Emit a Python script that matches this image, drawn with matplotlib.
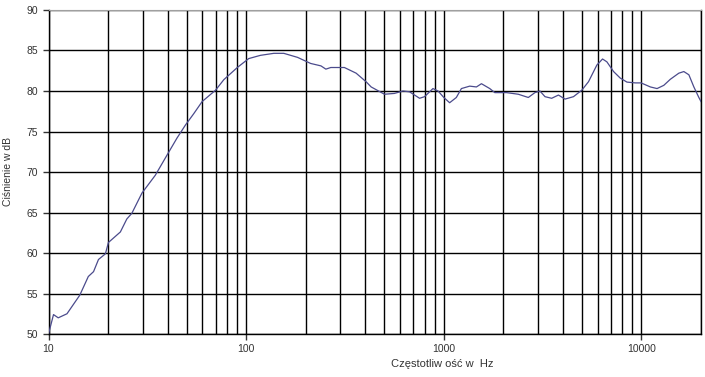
import matplotlib
matplotlib.use("Agg")
import matplotlib.pyplot as plt
from matplotlib.ticker import FixedLocator, LogLocator, NullFormatter

# frequency response ---------------------------------------------------------
freq = [10, 10.6, 11.2, 12.4, 14.4, 15.9, 16.9, 17.9, 19.4, 20.1, 23.1, 24.9,
        26.4, 29.7, 34.7, 39.8, 44.7, 49.3, 54.3, 59.9, 70, 77.1, 90.2, 103,
        118, 138, 155, 182, 212, 239, 253, 268, 314, 360, 404, 429, 501, 562,
        621, 671, 754, 799, 881, 935, 1000, 1070, 1157, 1227, 1352, 1462, 1550,
        1708, 1811, 2076, 2381, 2676, 2890, 3064, 3250, 3513, 3801, 4103, 4529,
        4990, 5396, 5945, 6353, 6683, 7225, 7803, 8440, 9306, 9950, 11090,
        11990, 12970, 14000, 15450, 16380, 17370, 18410, 19510, 20000]
spl = [50.0, 52.4, 52.0, 52.5, 54.8, 57.1, 57.7, 59.2, 59.9, 61.3, 62.6, 64.2,
       64.9, 67.4, 69.6, 72.1, 74.2, 75.8, 77.2, 78.7, 80.1, 81.4, 82.9, 84.0,
       84.4, 84.65, 84.65, 84.15, 83.4, 83.1, 82.7, 82.9, 82.9, 82.2, 81.15,
       80.5, 79.6, 79.7, 80.0, 79.9, 79.1, 79.3, 80.3, 80.0, 79.2, 78.55, 79.2,
       80.3, 80.6, 80.5, 80.9, 80.3, 79.8, 79.8, 79.6, 79.2, 79.8, 80.0, 79.3,
       79.1, 79.5, 79.0, 79.3, 80.1, 81.15, 83.2, 83.95, 83.6, 82.4, 81.6, 81.1,
       81.0, 81.0, 80.5, 80.3, 80.7, 81.45, 82.2, 82.4, 82.0, 80.5, 79.2, 78.7]

y_ticks = [50, 55, 60, 65, 70, 75, 80, 85, 90]
x_ticks = [10, 100, 1000, 10000]

plt.rcParams['font.family'] = ['Liberation Sans', 'DejaVu Sans']

fig = plt.figure(figsize=(7.05, 3.77), dpi=100)
ax = fig.add_axes([0.0688, 0.114, 0.9255, 0.8595])

ax.semilogx(freq, spl, color='#4b4b8c', lw=0.9, zorder=3)

ax.set_xlim(10, 20000)
ax.set_ylim(50, 90)
ax.set_yticks(y_ticks)
ax.xaxis.set_major_locator(FixedLocator(x_ticks))
ax.set_xticklabels([str(t) for t in x_ticks])
ax.xaxis.set_minor_locator(LogLocator(base=10, subs=range(2, 10)))
ax.xaxis.set_minor_formatter(NullFormatter())

ax.grid(True, which='both', axis='x', color='black', lw=1.0)
ax.grid(True, which='major', axis='y', color='black', lw=1.0)

ax.tick_params(axis='both', which='major', labelsize=7.5, colors='#333333',
               length=4, width=1, direction='out')
ax.tick_params(axis='x', which='minor', length=0)
for lab in ax.get_xticklabels() + ax.get_yticklabels():
    lab.set_color('#333333')

for side in ['left', 'bottom', 'right']:
    ax.spines[side].set_color('black')
    ax.spines[side].set_linewidth(1.0)
ax.spines['top'].set_color('#a0a0a0')

fig.text(0.627, 0.022, 'Częstotliw ość w  Hz', fontsize=8, color='#333333',
         ha='center', va='bottom')
fig.text(0.012, 0.544, 'Ciśnienie w dB', fontsize=7.5, color='#333333',
         rotation=90, ha='center', va='center')

fig.savefig('out.png', dpi=100)
